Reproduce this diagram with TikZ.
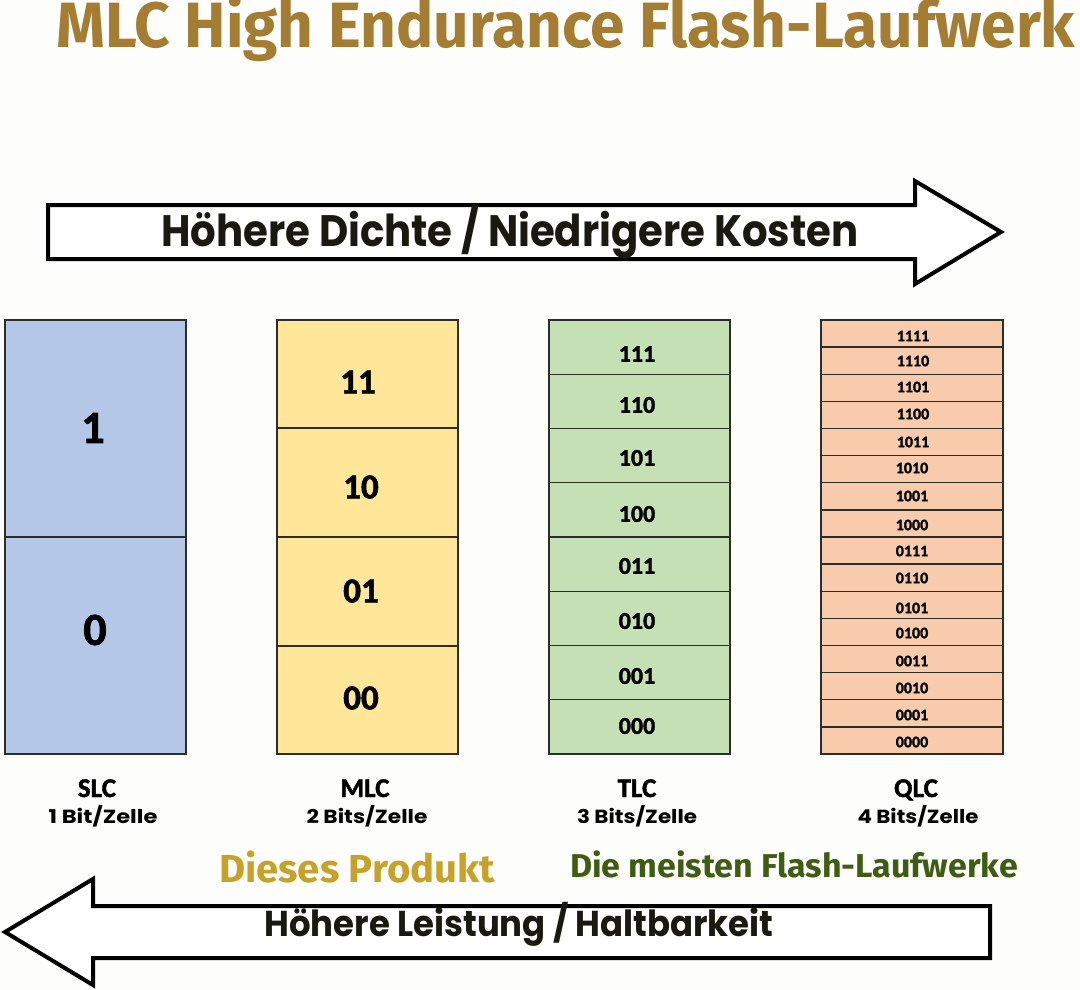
\documentclass[tikz,border=0pt]{standalone}
\usepackage{fontspec}
\setmainfont{Carlito}[BoldFont={Carlito Bold}, BoldFeatures={FakeBold=1.6}]
\newfontfamily\titlefont{Fira Sans}
\newfontfamily\arrowfont{Poppins}
\usetikzlibrary{positioning}

\definecolor{titlegold}{RGB}{165,125,50}
\definecolor{prodgold}{RGB}{200,162,40}
\definecolor{mostgreen}{RGB}{62,92,18}
\definecolor{slcblue}{RGB}{180,199,231}
\definecolor{mlcyellow}{RGB}{255,230,153}
\definecolor{tlcgreen}{RGB}{197,224,180}
\definecolor{qlcsalmon}{RGB}{248,203,173}
\definecolor{cellline}{RGB}{45,45,40}
\definecolor{arrowink}{RGB}{25,25,15}

% squeeze a text horizontally to a given width (in pt)
\newsavebox\sqbox
\newcommand\squeeze[2]{\sbox\sqbox{#2}\pgfmathsetmacro\sqf{#1/\wd\sqbox}\scalebox{\sqf}[1]{\usebox\sqbox}}

\tikzset{
  cell/.style={draw=cellline, line width=1.3pt},
  bigarrow/.style={draw=black, line width=4pt, fill=white, line join=miter},
  celltext/.style={inner sep=0pt, font=\bfseries},
  typelabel/.style={inner sep=0pt, anchor=base, font=\bfseries\fontsize{27}{30}\selectfont},
  bitslabel/.style={inner sep=0pt, anchor=base, font=\arrowfont\bfseries\fontsize{19}{22}\selectfont}
}

\begin{document}
\begin{tikzpicture}[x=1pt,y=1pt,yscale=-1]
\useasboundingbox[fill={rgb,255:red,253;green,253;blue,251}] (0,0) rectangle (1080,990);

% title
\node (title) [inner sep=0pt, anchor=base west, text=titlegold, font=\titlefont\bfseries\fontsize{64}{70}\selectfont] at (56,48) {\squeeze{1019}{MLC High Endurance Flash-Laufwerk}};

% top arrow
\draw [bigarrow] (48,205) -- (915,205) -- (915,181) -- (1001,232) -- (915,284) -- (915,259) -- (48,259) -- cycle;
\node (density) [inner sep=0pt, anchor=base, text=arrowink, font=\arrowfont\bfseries\fontsize{44}{50}\selectfont] at (510,246) {\squeeze{697}{Höhere Dichte / Niedrigere Kosten}};

% SLC
\draw [cell, fill=slcblue] (5,320) rectangle (186,537);
\draw [cell, fill=slcblue] (5,537) rectangle (186,754);
\node (slc1) [celltext, font=\bfseries\fontsize{46}{50}\selectfont] at (93,428) {1};
\node (slc0) [celltext, font=\bfseries\fontsize{46}{50}\selectfont] at (95,630) {0};

% MLC
\draw [cell, fill=mlcyellow] (277,320) rectangle (458,428);
\draw [cell, fill=mlcyellow] (277,428) rectangle (458,537);
\draw [cell, fill=mlcyellow] (277,537) rectangle (458,646);
\draw [cell, fill=mlcyellow] (277,646) rectangle (458,754);
\node (mlc11) [celltext, font=\bfseries\fontsize{35}{40}\selectfont] at (358,382) {11};
\node (mlc10) [celltext, font=\bfseries\fontsize{35}{40}\selectfont] at (361,487) {10};
\node (mlc01) [celltext, font=\bfseries\fontsize{35}{40}\selectfont] at (361,591) {01};
\node (mlc00) [celltext, font=\bfseries\fontsize{35}{40}\selectfont] at (361,698) {00};

% TLC
\draw [cell, fill=tlcgreen] (549,320) rectangle (730,374.25);
\draw [cell, fill=tlcgreen] (549,374.25) rectangle (730,428.5);
\draw [cell, fill=tlcgreen] (549,428.5) rectangle (730,482.75);
\draw [cell, fill=tlcgreen] (549,482.75) rectangle (730,537);
\draw [cell, fill=tlcgreen] (549,537) rectangle (730,591.25);
\draw [cell, fill=tlcgreen] (549,591.25) rectangle (730,645.5);
\draw [cell, fill=tlcgreen] (549,645.5) rectangle (730,699.75);
\draw [cell, fill=tlcgreen] (549,699.75) rectangle (730,754);
\node (tlc111) [celltext, font=\bfseries\fontsize{24}{28}\selectfont] at (637,354) {111};
\node (tlc110) [celltext, font=\bfseries\fontsize{24}{28}\selectfont] at (637,405) {110};
\node (tlc101) [celltext, font=\bfseries\fontsize{24}{28}\selectfont] at (637,458) {101};
\node (tlc100) [celltext, font=\bfseries\fontsize{24}{28}\selectfont] at (637,514) {100};
\node (tlc011) [celltext, font=\bfseries\fontsize{24}{28}\selectfont] at (637,566) {011};
\node (tlc010) [celltext, font=\bfseries\fontsize{24}{28}\selectfont] at (637,621) {010};
\node (tlc001) [celltext, font=\bfseries\fontsize{24}{28}\selectfont] at (637,676) {001};
\node (tlc000) [celltext, font=\bfseries\fontsize{24}{28}\selectfont] at (637,726) {000};

% QLC
\draw [cell, fill=qlcsalmon] (821,320) rectangle (1003,347.125);
\draw [cell, fill=qlcsalmon] (821,347.125) rectangle (1003,374.25);
\draw [cell, fill=qlcsalmon] (821,374.25) rectangle (1003,401.375);
\draw [cell, fill=qlcsalmon] (821,401.375) rectangle (1003,428.5);
\draw [cell, fill=qlcsalmon] (821,428.5) rectangle (1003,455.625);
\draw [cell, fill=qlcsalmon] (821,455.625) rectangle (1003,482.75);
\draw [cell, fill=qlcsalmon] (821,482.75) rectangle (1003,509.875);
\draw [cell, fill=qlcsalmon] (821,509.875) rectangle (1003,537);
\draw [cell, fill=qlcsalmon] (821,537) rectangle (1003,564.125);
\draw [cell, fill=qlcsalmon] (821,564.125) rectangle (1003,591.25);
\draw [cell, fill=qlcsalmon] (821,591.25) rectangle (1003,618.375);
\draw [cell, fill=qlcsalmon] (821,618.375) rectangle (1003,645.5);
\draw [cell, fill=qlcsalmon] (821,645.5) rectangle (1003,672.625);
\draw [cell, fill=qlcsalmon] (821,672.625) rectangle (1003,699.75);
\draw [cell, fill=qlcsalmon] (821,699.75) rectangle (1003,726.875);
\draw [cell, fill=qlcsalmon] (821,726.875) rectangle (1003,754);
\node (qlc1111) [celltext, font=\bfseries\fontsize{16}{18}\selectfont] at (913,336) {1111};
\node (qlc1110) [celltext, font=\bfseries\fontsize{16}{18}\selectfont] at (913,361) {1110};
\node (qlc1101) [celltext, font=\bfseries\fontsize{16}{18}\selectfont] at (913,387) {1101};
\node (qlc1100) [celltext, font=\bfseries\fontsize{16}{18}\selectfont] at (913,414) {1100};
\node (qlc1011) [celltext, font=\bfseries\fontsize{16}{18}\selectfont] at (913,442) {1011};
\node (qlc1010) [celltext, font=\bfseries\fontsize{16}{18}\selectfont] at (912,468) {1010};
\node (qlc1001) [celltext, font=\bfseries\fontsize{16}{18}\selectfont] at (912,496) {1001};
\node (qlc1000) [celltext, font=\bfseries\fontsize{16}{18}\selectfont] at (912,525) {1000};
\node (qlc0111) [celltext, font=\bfseries\fontsize{16}{18}\selectfont] at (912,551) {0111};
\node (qlc0110) [celltext, font=\bfseries\fontsize{16}{18}\selectfont] at (912,578) {0110};
\node (qlc0101) [celltext, font=\bfseries\fontsize{16}{18}\selectfont] at (912,608) {0101};
\node (qlc0100) [celltext, font=\bfseries\fontsize{16}{18}\selectfont] at (912,633) {0100};
\node (qlc0011) [celltext, font=\bfseries\fontsize{16}{18}\selectfont] at (912,661) {0011};
\node (qlc0010) [celltext, font=\bfseries\fontsize{16}{18}\selectfont] at (912,688) {0010};
\node (qlc0001) [celltext, font=\bfseries\fontsize{16}{18}\selectfont] at (912,715) {0001};
\node (qlc0000) [celltext, font=\bfseries\fontsize{16}{18}\selectfont] at (912,742) {0000};

% type labels
\node (slclabel) [typelabel] at (97,797) {SLC};
\node (mlclabel) [typelabel] at (365,797) {MLC};
\node (tlclabel) [typelabel] at (637,797) {TLC};
\node (qlclabel) [typelabel] at (916,797) {QLC};
\node (slcbits) [bitslabel] at (103,823) {\squeeze{109}{1 Bit/Zelle}};
\node (mlcbits) [bitslabel] at (367,823) {\squeeze{121}{2 Bits/Zelle}};
\node (tlcbits) [bitslabel] at (637,823) {\squeeze{120}{3 Bits/Zelle}};
\node (qlcbits) [bitslabel] at (918,823) {\squeeze{121}{4 Bits/Zelle}};

% product notes
\node (product) [inner sep=0pt, anchor=base, text=prodgold, font=\titlefont\bfseries\fontsize{39}{44}\selectfont] at (357,882) {\squeeze{276}{Dieses Produkt}};
\node (most) [inner sep=0pt, anchor=base, text=mostgreen, font=\titlefont\bfseries\fontsize{33}{38}\selectfont] at (794,877) {\squeeze{448}{Die meisten Flash-Laufwerke}};

% bottom arrow
\draw [bigarrow] (990,906) -- (93,906) -- (93,879) -- (5,932) -- (93,985) -- (93,958) -- (990,958) -- cycle;
\node (endurance) [inner sep=0pt, anchor=base, text=arrowink, font=\arrowfont\bfseries\fontsize{36}{40}\selectfont] at (519,936) {\squeeze{509}{Höhere Leistung / Haltbarkeit}};
\end{tikzpicture}
\end{document}
